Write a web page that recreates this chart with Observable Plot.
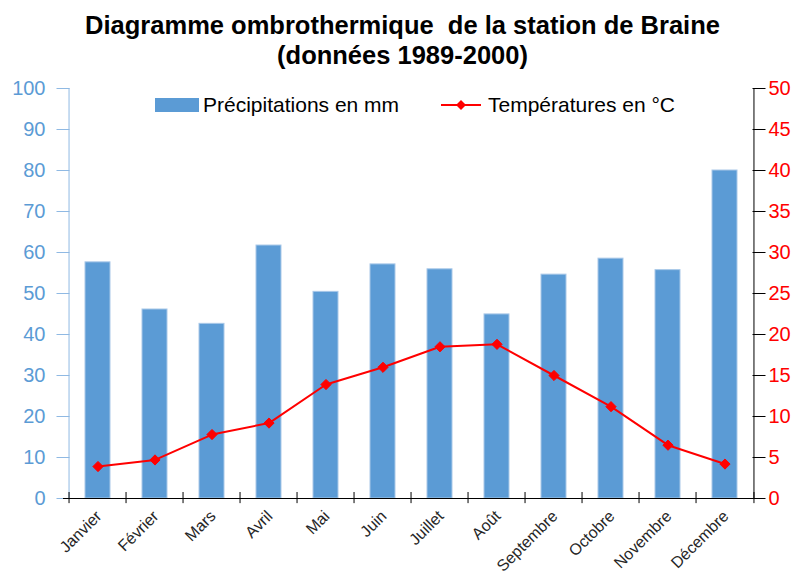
<!DOCTYPE html>
<html><head><meta charset="utf-8">
<script src="https://cdn.jsdelivr.net/npm/d3@7"></script>
<script src="https://cdn.jsdelivr.net/npm/@observablehq/plot@0.6"></script>
<style>
body{margin:0;background:#fff;font-family:"Liberation Sans",Arial,sans-serif;}
#wrap{position:relative;width:805px;height:576px;overflow:hidden;}
#chart{position:absolute;left:0;top:0;}
.title{position:absolute;left:0;width:805px;text-align:center;font-weight:bold;font-size:25.5px;line-height:30px;color:#000;}
.leg{position:absolute;top:91px;font-size:21px;line-height:28px;color:#000;display:flex;align-items:center;}
</style></head>
<body>
<div id="wrap">
<div id="chart"></div>
<div class="title" style="top:10px">Diagramme ombrothermique&nbsp; de la station de Braine</div>
<div class="title" style="top:40px">(données 1989-2000)</div>
<div class="leg" style="left:155px"><span style="display:inline-block;width:44px;height:14px;background:#5B9BD5;margin-right:4px"></span>Précipitations en mm</div>
<div class="leg" style="left:440px"><svg width="44" height="14" style="margin-right:4px"><line x1="1" y1="7" x2="41" y2="7" stroke="#FF0000" stroke-width="2"/><path d="M21,2L26,7L21,12L16,7Z" fill="#FF0000"/></svg>Températures en °C</div>
</div>
<script>
const months = ["Janvier","Février","Mars","Avril","Mai","Juin","Juillet","Août","Septembre","Octobre","Novembre","Décembre"];
const precipitations = [57.6, 46.1, 42.6, 61.7, 50.4, 57.1, 55.9, 44.9, 54.6, 58.5, 55.7, 80.0];
const temperatures = [3.9, 4.7, 7.8, 9.2, 13.9, 16.0, 18.5, 18.8, 15.0, 11.2, 6.5, 4.2];
const precipTicks = [0,10,20,30,40,50,60,70,80,90,100];
const tempTicks = [0,5,10,15,20,25,30,35,40,45,50];

const data = months.map((m,i)=>({month:m, precip:precipitations[i], temp:temperatures[i]}));
const blue = "#5B9BD5";
const axisBlue = "#8FB9E3";
const halfStep = (805-63-47)/12/2;
const first = months[0], last = months[months.length-1];

const plot = Plot.plot({
  width: 805, height: 576,
  marginTop: 88, marginBottom: 78, marginLeft: 63, marginRight: 47,
  style: {fontFamily: "'Liberation Sans', Arial, sans-serif", background: "transparent"},
  x: {domain: months, paddingInner: 0.57, paddingOuter: 0.285, axis: null},
  y: {domain: [0,100], axis: null},
  marks: [
    Plot.barY(data, {x: "month", y: "precip", fill: blue, stroke: "#A9C8E8", strokeWidth: 1}),
    // left axis
    Plot.ruleX([first], {x: d => d, y1: 0, y2: 100, dx: -halfStep, stroke: axisBlue}),
    Plot.axisY({anchor: "left", ticks: precipTicks, tickSize: 13, dx: 6.5, tickFormat: () => "", stroke: axisBlue, label: null}),
    Plot.axisY({anchor: "left", ticks: precipTicks, tickSize: 0, tickPadding: 18, fill: blue, fontSize: 20, label: null}),
    // right axis
    Plot.ruleX([last], {x: d => d, y1: 0, y2: 100, dx: halfStep, stroke: "#000"}),
    Plot.axisY({anchor: "right", ticks: tempTicks.map(t=>t*2), tickSize: 13, dx: -6.5, tickFormat: () => "", stroke: "#000", label: null}),
    Plot.axisY({anchor: "right", ticks: tempTicks.map(t=>t*2), tickSize: 0, tickPadding: 10, tickFormat: d => d/2, fill: "#FF0000", fontSize: 20, label: null}),
    // bottom axis
    Plot.ruleY([0], {stroke: "#000", strokeWidth: 1}),
    Plot.ruleX(months, {x: d => d, y1: 1.46, y2: -1.25, dx: -halfStep, stroke: "#000"}),
    Plot.ruleX([last], {x: d => d, y1: 1.46, y2: -1.25, dx: halfStep, stroke: "#000"}),
    Plot.axisX({ticks: months, tickSize: 0, tickRotate: -45, tickPadding: 12, dx: 1, dy: 3, fontSize: 16, fill: "#262626", label: null}),
    // temperatures
    Plot.line(data, {x: "month", y: d => d.temp*2, stroke: "#FF0000", strokeWidth: 2}),
    Plot.dot(data, {x: "month", y: d => d.temp*2, symbol: "diamond2", r: 4.6, fill: "#FF0000", stroke: "#FF0000", strokeWidth: 1})
  ]
});
document.getElementById("chart").appendChild(plot);
</script>
</body></html>
